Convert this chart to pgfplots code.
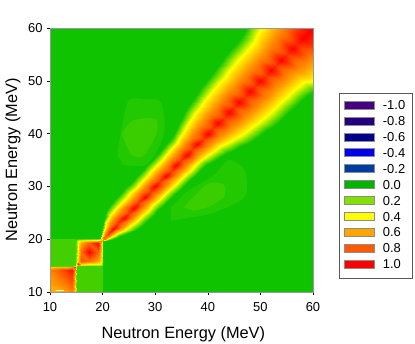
\documentclass[border=0pt]{standalone}
\usepackage{fontspec}
\setmainfont{Liberation Sans}
\usepackage{pgfplots}
\usepackage{pgfplotstable}
\pgfplotsset{compat=1.18}
\definecolor{bggreen}{RGB}{15,195,0}
\definecolor{blockpale}{RGB}{68,208,0}
\definecolor{pale}{RGB}{58,206,0}
\definecolor{faint}{RGB}{34,200,0}
\definecolor{lv1}{RGB}{70,0,130}
\definecolor{lv2}{RGB}{35,0,125}
\definecolor{lv3}{RGB}{0,0,140}
\definecolor{lv4}{RGB}{0,0,235}
\definecolor{lv5}{RGB}{0,60,160}
\definecolor{lv6}{RGB}{0,180,0}
\definecolor{lv7}{RGB}{130,225,0}
\definecolor{lv8}{RGB}{255,255,0}
\definecolor{lv9}{RGB}{255,165,0}
\definecolor{lv10}{RGB}{255,90,0}
\definecolor{lv11}{RGB}{255,0,0}

% ridge along the diagonal: s=(x+y)/2, d=y-x, v=correlation
\pgfplotstableread[row sep=\\]{
s d v\\
20 -0.7 0\\20 -0.4 0.4\\20 -0.2 0.68\\20 0 0.7\\20 0.25 0.68\\20 0.5 0.4\\20 0.8 0\\
21 -1.9 0\\21 -1.2 0.4\\21 -0.6 0.68\\21 0 0.88\\21 0.8 0.68\\21 1.6 0.4\\21 2.3 0\\
22 -2.8 0\\22 -1.8 0.4\\22 -0.9 0.68\\22 0 1\\22 1.3 0.68\\22 2.6 0.4\\22 3.6 0\\
23 -3.8 0\\23 -2.4 0.4\\23 -1.2 0.68\\23 0 0.88\\23 1.6 0.68\\23 3.2 0.4\\23 4.6 0\\
24 -4.6 0\\24 -2.8 0.4\\24 -1.4 0.68\\24 0 1\\24 1.65 0.68\\24 3.3 0.4\\24 5.1 0\\
25 -4.9 0\\25 -3 0.4\\25 -1.5 0.68\\25 0 0.88\\25 1.7 0.68\\25 3.4 0.4\\25 5.3 0\\
26 -5 0\\26 -3.1 0.4\\26 -1.55 0.68\\26 0 1\\26 1.7 0.68\\26 3.4 0.4\\26 5.3 0\\
27 -5.1 0\\27 -3.2 0.4\\27 -1.6 0.68\\27 0 0.88\\27 1.7 0.68\\27 3.4 0.4\\27 5.3 0\\
28 -5.1 0\\28 -3.2 0.4\\28 -1.6 0.68\\28 0 1\\28 1.7 0.68\\28 3.4 0.4\\28 5.3 0\\
29 -5.2 0\\29 -3.3 0.4\\29 -1.65 0.68\\29 0 0.88\\29 1.75 0.68\\29 3.5 0.4\\29 5.4 0\\
30 -5.2 0\\30 -3.3 0.4\\30 -1.65 0.68\\30 0 1\\30 1.8 0.68\\30 3.6 0.4\\30 5.5 0\\
31 -5.3 0\\31 -3.4 0.4\\31 -1.7 0.68\\31 0 0.88\\31 1.85 0.68\\31 3.7 0.4\\31 5.6 0\\
32 -5.3 0\\32 -3.4 0.4\\32 -1.7 0.68\\32 0 1\\32 1.85 0.68\\32 3.7 0.4\\32 5.6 0\\
33 -5.4 0\\33 -3.5 0.4\\33 -1.75 0.68\\33 0 0.88\\33 1.9 0.68\\33 3.8 0.4\\33 5.7 0\\
34 -5.4 0\\34 -3.5 0.4\\34 -1.75 0.68\\34 0 1\\34 1.95 0.68\\34 3.9 0.4\\34 5.8 0\\
35 -5.5 0\\35 -3.6 0.4\\35 -1.8 0.68\\35 0 0.88\\35 2 0.68\\35 4 0.4\\35 5.9 0\\
36 -5.6 0\\36 -3.7 0.4\\36 -1.85 0.68\\36 0 1\\36 2.1 0.68\\36 4.2 0.4\\36 6.1 0\\
37 -5.7 0\\37 -3.8 0.4\\37 -1.9 0.68\\37 0 0.88\\37 2.3 0.68\\37 4.6 0.4\\37 6.5 0\\
38 -6.2 0\\38 -4 0.4\\38 -2 0.68\\38 0 1\\38 2.5 0.68\\38 5 0.4\\38 7.2 0\\
39 -6.8 0\\39 -4.4 0.4\\39 -2.2 0.68\\39 0 0.88\\39 2.75 0.68\\39 5.5 0.4\\39 7.9 0\\
40 -7.4 0\\40 -4.8 0.4\\40 -2.4 0.68\\40 0 1\\40 2.95 0.68\\40 5.9 0.4\\40 8.5 0\\
41 -8.1 0\\41 -5.4 0.4\\41 -2.7 0.68\\41 0 0.88\\41 3.15 0.68\\41 6.3 0.4\\41 9 0\\
42 -8.8 0\\42 -6 0.4\\42 -3 0.68\\42 0 1\\42 3.3 0.68\\42 6.6 0.4\\42 9.4 0\\
43 -9.5 0\\43 -6.6 0.4\\43 -3.3 0.68\\43 0 0.88\\43 3.45 0.68\\43 6.9 0.4\\43 9.8 0\\
44 -10 0\\44 -7 0.4\\44 -3.5 0.68\\44 0 1\\44 3.55 0.68\\44 7.1 0.4\\44 10.1 0\\
45 -10.4 0\\45 -7.3 0.4\\45 -3.65 0.68\\45 0 0.88\\45 3.65 0.68\\45 7.3 0.4\\45 10.4 0\\
46 -10.7 0\\46 -7.6 0.4\\46 -3.8 0.68\\46 0 1\\46 3.7 0.68\\46 7.4 0.4\\46 10.5 0\\
47 -11 0\\47 -7.8 0.4\\47 -3.9 0.68\\47 0 0.88\\47 3.8 0.68\\47 7.6 0.4\\47 10.8 0\\
48 -11.3 0\\48 -8 0.4\\48 -4 0.68\\48 0 1\\48 3.9 0.68\\48 7.8 0.4\\48 11.1 0\\
49 -11.3 0\\49 -8 0.4\\49 -4 0.68\\49 0 0.88\\49 4 0.68\\49 8 0.4\\49 11.3 0\\
50 -11.4 0\\50 -8 0.4\\50 -4 0.68\\50 0 1\\50 4.1 0.68\\50 8.2 0.4\\50 11.6 0\\
51 -11.4 0\\51 -8 0.4\\51 -4 0.68\\51 0 0.88\\51 4.15 0.68\\51 8.3 0.4\\51 11.7 0\\
52 -11.6 0\\52 -8.1 0.4\\52 -4.05 0.68\\52 0 1\\52 4.2 0.68\\52 8.4 0.4\\52 11.9 0\\
53 -11.8 0\\53 -8.2 0.4\\53 -4.1 0.68\\53 0 0.88\\53 4.3 0.68\\53 8.6 0.4\\53 12.2 0\\
54 -12.4 0\\54 -8.6 0.4\\54 -4.3 0.68\\54 0 1\\54 4.6 0.68\\54 9.2 0.4\\54 13 0\\
55 -13.8 0\\55 -10 0.4\\55 -5 0.68\\55 0 0.88\\55 4.9 0.68\\55 9.8 0.4\\55 13.6 0\\
56 -14.2 0\\56 -10.4 0.4\\56 -5.2 0.68\\56 0 1\\56 5.2 0.68\\56 10.4 0.4\\56 14.2 0\\
57 -14.6 0\\57 -10.8 0.4\\57 -5.4 0.7\\57 0 0.92\\57 5.4 0.7\\57 10.8 0.4\\57 14.6 0\\
58 -15 0\\58 -11.2 0.4\\58 -5.6 0.75\\58 0 1\\58 5.6 0.75\\58 11.2 0.4\\58 15 0\\
59 -15.4 0\\59 -11.6 0.4\\59 -5.8 0.8\\59 0 1\\59 5.8 0.8\\59 11.6 0.4\\59 15.4 0\\
60 -15.8 0\\60 -12 0.4\\60 -6 0.85\\60 0 1\\60 6 0.85\\60 12 0.4\\60 15.8 0\\
}\ridge

% block 15-20 MeV
\pgfplotstableread[row sep=\\]{
x y v\\
15 15 0.45\\15.3 15 0.35\\15.8 15 0.2\\17.5 15 0.14\\19.2 15 0.13\\19.7 15 0.12\\20 15 0.05\\
15 15.3 0.35\\15.3 15.3 0.95\\15.8 15.3 0.5\\17.5 15.3 0.42\\19.2 15.3 0.4\\19.7 15.3 0.38\\20 15.3 0.1\\
15 15.8 0.2\\15.3 15.8 0.5\\15.8 15.8 0.82\\17.5 15.8 0.75\\19.2 15.8 0.6\\19.7 15.8 0.48\\20 15.8 0.12\\
15 17.5 0.14\\15.3 17.5 0.42\\15.8 17.5 0.75\\17.5 17.5 1\\19.2 17.5 0.78\\19.7 17.5 0.55\\20 17.5 0.15\\
15 19.2 0.13\\15.3 19.2 0.4\\15.8 19.2 0.6\\17.5 19.2 0.78\\19.2 19.2 1\\19.7 19.2 0.6\\20 19.2 0.18\\
15 19.7 0.12\\15.3 19.7 0.38\\15.8 19.7 0.48\\17.5 19.7 0.55\\19.2 19.7 0.6\\19.7 19.7 0.75\\20 19.7 0.3\\
15 20 0.05\\15.3 20 0.1\\15.8 20 0.12\\17.5 20 0.15\\19.2 20 0.18\\19.7 20 0.3\\20 20 0.45\\
}\blockhigh

% block 10-15 MeV
\pgfplotstableread[row sep=\\]{
x y v\\
10 10 0.6\\11.5 10 0.55\\13 10 0.62\\14.2 10 0.7\\14.7 10 0.5\\15 10 0.12\\
10 11.5 0.62\\11.5 11.5 0.66\\13 11.5 0.72\\14.2 11.5 0.8\\14.7 11.5 0.55\\15 11.5 0.12\\
10 13 0.65\\11.5 13 0.72\\13 13 0.82\\14.2 13 0.88\\14.7 13 0.55\\15 13 0.12\\
10 14.2 0.7\\11.5 14.2 0.78\\13 14.2 0.88\\14.2 14.2 0.97\\14.7 14.2 0.65\\15 14.2 0.13\\
10 14.7 0.5\\11.5 14.7 0.55\\13 14.7 0.55\\14.2 14.7 0.65\\14.7 14.7 0.95\\15 14.7 0.3\\
10 15 0.12\\11.5 15 0.12\\13 15 0.12\\14.2 15 0.13\\14.7 15 0.3\\15 15 0.45\\
}\blocklow

\begin{document}
\begin{tikzpicture}[x=1bp,y=1bp]
\path[use as bounding box] (-50,-52) rectangle (365,292);
\begin{axis}[
  at={(0,0)},anchor=south west,
  scale only axis,
  width=263bp,height=264bp,
  xmin=10,xmax=60,ymin=10,ymax=60,
  xtick={10,20,...,60},ytick={10,20,...,60},
  tick align=outside,
  tick pos=left,
  major tick length=3bp,
  axis on top,
  axis line style={draw=black!40,line width=0.4pt},
  tick style={draw=black,line width=0.5pt},
  /pgf/number format/assume math mode=true,
  ticklabel style={font=\fontsize{13}{15}\selectfont},
  xticklabel style={yshift=-4bp},
  yticklabel style={xshift=-1bp},
  xlabel={Neutron Energy (MeV)},
  ylabel={Neutron Energy (MeV)},
  label style={font=\fontsize{16.4}{19}\selectfont},
  xlabel style={at={(axis description cs:0.507,0)},anchor=north,yshift=-31bp},
  ylabel style={at={(axis description cs:0,0.5)},anchor=south,yshift=26bp},
  axis background/.style={fill=bggreen},
  colormap={corr}{rgb255(0cm)=(15,195,0); rgb255(1cm)=(130,225,0); rgb255(2cm)=(255,255,0); rgb255(3cm)=(255,165,0); rgb255(4cm)=(255,90,0); rgb255(5cm)=(255,0,0)},
  point meta min=0,point meta max=1,
  legend style={
    at={(1.099,0.754)},anchor=north west,
    draw=black!65,line width=0.6pt,
    font=\fontsize{13}{15}\selectfont,
    inner xsep=5bp,inner ysep=7.5bp,
    row sep=4.35bp,
    nodes={inner ysep=0bp,text height=9bp,text depth=2.5bp},
    /tikz/every odd column/.append style={column sep=6bp},
  },
  legend cell align=left,
  legend image code/.code={\path[#1] (0bp,-2.5bp) rectangle (30bp,5.5bp);},
]
% pale patches off the ridge
\addplot[fill=faint,draw=none,smooth,forget plot] coordinates {(22.8,36) (23.6,41) (25,46.3) (28,46.5) (31,46) (31.8,41) (30.5,37) (28,34) (24,34)} --cycle;
\addplot[fill=pale,draw=none,smooth,forget plot] coordinates {(23.6,40) (25.8,42.5) (30,42.8) (30.4,40.6) (29.3,38) (27.4,35.5) (25.2,36.2)} --cycle;
\addplot[fill=faint,draw=none,smooth,forget plot] coordinates {(33,23.5) (36,24) (41,25) (47,28) (47,33) (44,35) (41,32) (36,29) (33,26)} --cycle;
\addplot[fill=pale,draw=none,smooth,forget plot] coordinates {(35.4,26) (39.8,30.4) (43,30.4) (43,27.9) (39.8,26) (37.3,25.4)} --cycle;
% ridge and blocks
\addplot[surf,shader=interp,forget plot,mesh/rows=41,mesh/cols=7,point meta=\thisrow{v}]
  table[x expr=\thisrow{s}-\thisrow{d}/2,y expr=\thisrow{s}+\thisrow{d}/2] {\ridge};
\addplot[fill=blockpale,draw=none,forget plot] coordinates {(10,15) (15,15) (15,20) (10,20)} --cycle;
\addplot[fill=blockpale,draw=none,forget plot] coordinates {(15,10) (20,10) (20,15) (15,15)} --cycle;
\addplot[surf,shader=interp,forget plot,mesh/rows=7,mesh/cols=7,point meta=\thisrow{v}]
  table[x=x,y=y] {\blockhigh};
\addplot[surf,shader=interp,forget plot,mesh/rows=6,mesh/cols=6,point meta=\thisrow{v}]
  table[x=x,y=y] {\blocklow};
\addplot[white!80!yellow,line width=0.5pt,forget plot] coordinates {(11.2,10.35) (12.6,10.35)};
% legend
\addlegendimage{fill=lv1,draw=black!45}\addlegendentry{-1.0\hspace{3bp}}
\addlegendimage{fill=lv2,draw=black!45}\addlegendentry{-0.8}
\addlegendimage{fill=lv3,draw=black!45}\addlegendentry{-0.6}
\addlegendimage{fill=lv4,draw=black!45}\addlegendentry{-0.4}
\addlegendimage{fill=lv5,draw=black!45}\addlegendentry{-0.2}
\addlegendimage{fill=lv6,draw=black!45}\addlegendentry{0.0}
\addlegendimage{fill=lv7,draw=black!45}\addlegendentry{0.2}
\addlegendimage{fill=lv8,draw=black!45}\addlegendentry{0.4}
\addlegendimage{fill=lv9,draw=black!45}\addlegendentry{0.6}
\addlegendimage{fill=lv10,draw=black!45}\addlegendentry{0.8}
\addlegendimage{fill=lv11,draw=black!45}\addlegendentry{1.0}
\end{axis}
\end{tikzpicture}
\end{document}
